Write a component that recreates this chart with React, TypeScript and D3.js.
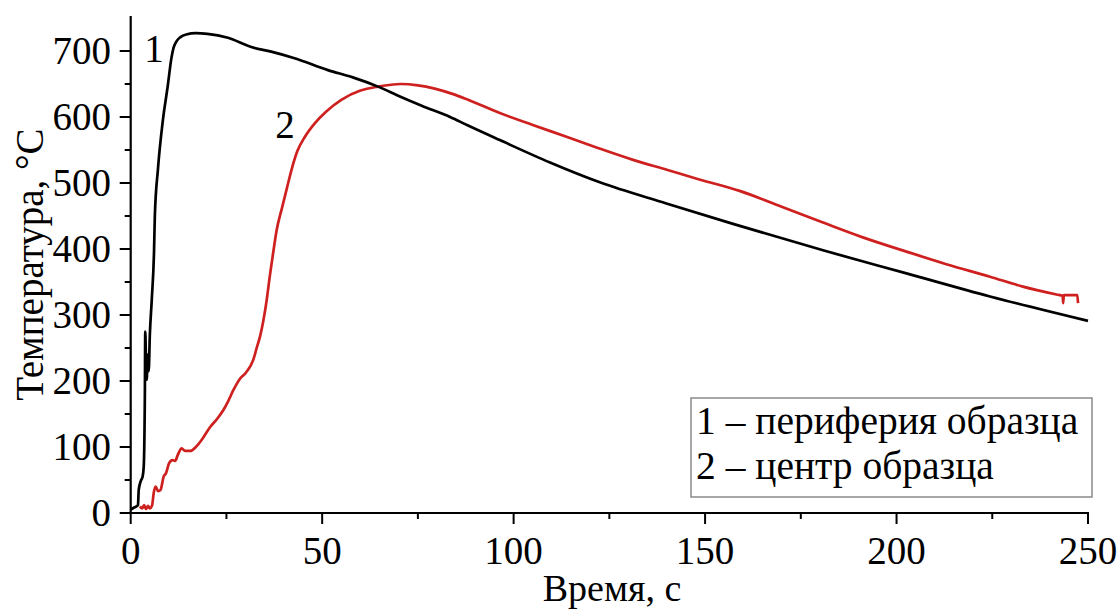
import React from "react";
import * as d3 from "d3";

// Temperature vs time: curve 1 (sample periphery), curve 2 (sample centre)
const timePeriphery = [0, 0.8, 1.5, 1.9, 2.1, 2.6, 3.1, 3.4, 3.7, 3.8, 4.0, 4.2, 4.4, 4.7, 5.0, 5.5, 6.1, 6.3, 7.1, 8.4, 9.7, 10.6, 11.2, 12, 13, 14.5, 17, 20, 25.4, 31.5, 36.7, 42.8, 51.5, 58, 64.6, 70.3, 76, 83.4, 88.1, 96.4, 109.5, 122.5, 139.9, 157.3, 180.8, 202.6, 224.4, 250];
const tempPeriphery = [5, 8, 10, 12, 35, 48, 55, 70, 180, 275, 230, 202, 240, 215, 270, 323, 398, 449, 520, 595, 648, 688, 705, 715, 721, 725, 727, 726, 720, 706, 699, 689, 671, 660, 646, 631, 617, 600, 587, 565, 531, 501, 469, 438, 398, 363, 328, 291];

const timeCentre = [2.4, 3.0, 3.5, 4.0, 4.5, 5.0, 5.6, 6.0, 6.5, 7.2, 7.8, 8.6, 9.2, 10, 10.9, 11.6, 12.3, 13.3, 14.2, 15.6, 17, 18.8, 20.7, 22.5, 24.2, 25.5, 26.8, 28.5, 30, 31.2, 32, 32.9, 33.8, 34.6, 35.5, 36.4, 37.3, 38.1, 39.5, 40.7, 42, 43.5, 45.5, 48, 51, 55, 60, 64.6, 70.5, 75, 79.4, 84, 88.1, 96.4, 105, 113.8, 122, 131.2, 140, 148.7, 159, 170, 180.8, 191, 202.6, 213, 224.4, 233, 241.8, 243.4, 243.5, 243.7, 247.2, 247.4];
const tempCentre = [10, 7, 12, 6, 11, 7, 12, 30, 40, 33, 35, 55, 60, 75, 80, 79, 88, 98, 94, 94, 100, 113, 130, 142, 156, 170, 186, 203, 212, 222, 232, 250, 268, 290, 322, 362, 398, 428, 462, 490, 520, 548, 570, 590, 608, 626, 640, 646, 650, 648, 643, 635, 626, 606, 588, 570, 553, 535, 520, 505, 488, 464, 440, 418, 396, 377, 358, 343, 331, 329, 318, 330, 330, 318];

const xMajorTicks = [0, 50, 100, 150, 200, 250];
const xMinorTicks = [25, 75, 125, 175, 225];
const yMajorTicks = [0, 100, 200, 300, 400, 500, 600, 700];
const yMinorTicks = [50, 150, 250, 350, 450, 550, 650];

const legendLabels = ["1 – периферия образца", "2 – центр образца"];
const xTitle = "Время, с";
const yTitle = "Температура, °C";

const W = 1120;
const H = 612;
const FONT = "Liberation Serif, Times New Roman, serif";

export default function App() {
  const x = d3.scaleLinear().domain([0, 250]).range([130.7, 1088]);
  const y = d3.scaleLinear().domain([0, 753]).range([513, 16]);

  const line = d3
    .line<[number, number]>()
    .x((d) => x(d[0]))
    .y((d) => y(d[1]))
    .curve(d3.curveMonotoneX);

  const periphery = timePeriphery.map((t, i) => [t, tempPeriphery[i]] as [number, number]);
  const centre = timeCentre.map((t, i) => [t, tempCentre[i]] as [number, number]);

  const x0 = x(0);
  const y0 = y(0);
  const textStyle = { fontFamily: FONT };

  return (
    <svg
      width={W}
      height={H}
      style={{ position: "absolute", left: 0, top: 0, background: "#fff", fontFamily: FONT }}
    >
      <rect width={W} height={H} fill="#fff" />

      {/* curves */}
      <path d={line(centre) ?? ""} fill="none" stroke="#cf2020" strokeWidth={2.7} strokeLinejoin="round" />
      <path d={line(periphery) ?? ""} fill="none" stroke="#000" strokeWidth={2.7} strokeLinejoin="round" />

      {/* axes */}
      <line x1={x0} x2={x(250) + 1} y1={y0} y2={y0} stroke="#000" strokeWidth={2.2} />
      <line x1={x0} x2={x0} y1={y0 + 1} y2={y.range()[1]} stroke="#000" strokeWidth={2.2} />

      {xMajorTicks.map((t) => (
        <g key={"xm" + t}>
          <line x1={x(t)} x2={x(t)} y1={y0} y2={y0 + 11} stroke="#000" strokeWidth={2} />
          <text x={x(t)} y={564} textAnchor="middle" fontSize={39} fill="#000" style={textStyle}>
            {t}
          </text>
        </g>
      ))}
      {xMinorTicks.map((t) => (
        <line key={"xn" + t} x1={x(t)} x2={x(t)} y1={y0} y2={y0 + 6} stroke="#000" strokeWidth={2} />
      ))}

      {yMajorTicks.map((v) => (
        <g key={"ym" + v}>
          <line x1={x0 - 11} x2={x0} y1={y(v)} y2={y(v)} stroke="#000" strokeWidth={2} />
          <text x={111} y={y(v) + 13} textAnchor="end" fontSize={39} fill="#000" style={textStyle}>
            {v}
          </text>
        </g>
      ))}
      {yMinorTicks.map((v) => (
        <line key={"yn" + v} x1={x0 - 6} x2={x0} y1={y(v)} y2={y(v)} stroke="#000" strokeWidth={2} />
      ))}

      {/* axis titles */}
      <text x={612} y={601} textAnchor="middle" fontSize={38} fill="#000" style={textStyle}>
        {xTitle}
      </text>
      <text
        transform={`translate(43, ${(y0 + y.range()[1]) / 2}) rotate(-90)`}
        textAnchor="middle"
        fontSize={39}
        fill="#000"
        style={textStyle}
      >
        {yTitle}
      </text>

      {/* curve numbers */}
      <text x={154} y={62} textAnchor="middle" fontSize={39} fill="#000" style={textStyle}>
        1
      </text>
      <text x={285} y={138} textAnchor="middle" fontSize={39} fill="#000" style={textStyle}>
        2
      </text>

      {/* legend */}
      <rect x={691} y={398} width={401} height={99} fill="#fff" stroke="#8a8a8a" strokeWidth={1.5} />
      {legendLabels.map((s, i) => (
        <text key={s} x={696} y={434 + i * 45} fontSize={39.5} fill="#000" style={textStyle}>
          {s}
        </text>
      ))}
    </svg>
  );
}
